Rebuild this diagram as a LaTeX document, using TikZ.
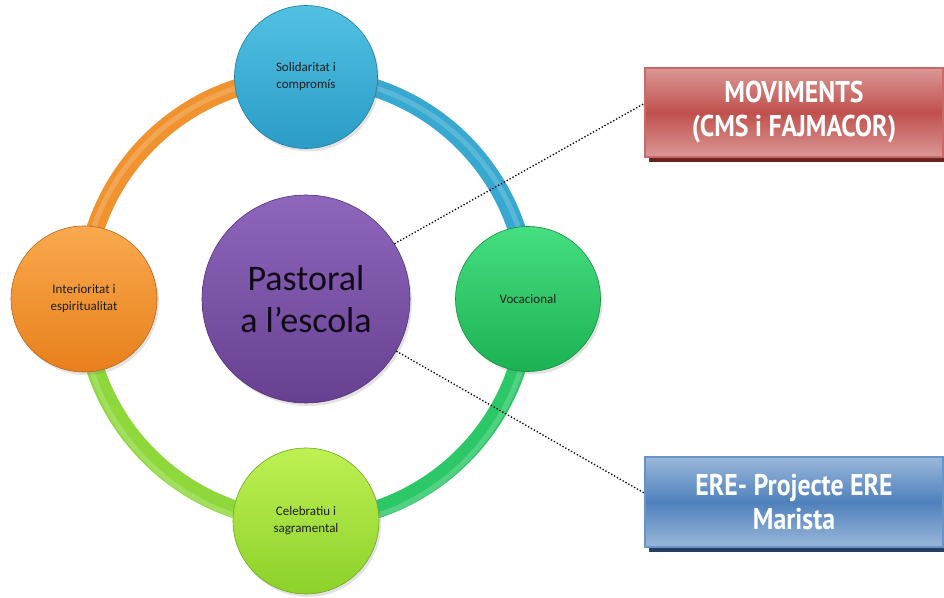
\documentclass[tikz,border=0pt]{standalone}
\usepackage{fontspec}
\setmainfont{Carlito}
\newfontfamily\boxfont[FakeStretch=0.86]{PT Sans Bold}
\usetikzlibrary{shadows}
\definecolor{cTopA}{HTML}{52C0E3}\definecolor{cTopB}{HTML}{2A9CC6}
\definecolor{cRgtA}{HTML}{45DE80}\definecolor{cRgtB}{HTML}{1BB253}
\definecolor{cBotA}{HTML}{BEF153}\definecolor{cBotB}{HTML}{8CD12A}
\definecolor{cLftA}{HTML}{F9A94E}\definecolor{cLftB}{HTML}{E8801C}
\definecolor{cCenA}{HTML}{8E66BC}\definecolor{cCenB}{HTML}{674092}
\definecolor{rBlue}{HTML}{37A8D0}\definecolor{rGreen}{HTML}{2CC868}
\definecolor{rLime}{HTML}{8FD83C}\definecolor{rOrange}{HTML}{F0922E}
\definecolor{redA}{HTML}{DA9896}\definecolor{redB}{HTML}{C0504D}\definecolor{redD}{HTML}{6B2321}
\definecolor{bluA}{HTML}{9AB7DA}\definecolor{bluB}{HTML}{4F81BD}\definecolor{bluD}{HTML}{243F60}
\definecolor{txt}{HTML}{1E1E1E}
\tikzset{
  disc/.style={circle, minimum size=#1, inner sep=0pt, align=center, text=txt,
    drop shadow={opacity=0.22, shadow xshift=2pt, shadow yshift=-3pt}},
  small/.style={font=\fontsize{13}{17}\selectfont},
  ringarc/.style={line width=18pt},
  ringhl/.style={line width=5pt, white, opacity=0.18},
  tag/.style={minimum width=298pt, minimum height=89pt, inner sep=0pt, align=center,
    text=white, font=\boxfont\fontsize{30}{34}\selectfont, line width=1.5pt},
  link/.style={dotted, line width=1.3pt, black}
}
\begin{document}
\begin{tikzpicture}[x=1pt,y=1pt]
\useasboundingbox (0,0) rectangle (944,597);
\fill[white] (0,0) rectangle (944,597);
% hub and ring positions
\coordinate (o) at (306,298);
\coordinate (pt) at (306,520);
\coordinate (pr) at (528,298);
\coordinate (pb) at (306,76);
\coordinate (pl) at (84,298);
% ring arcs
\draw[ringarc, rBlue]   (pt) arc[start angle=90,  end angle=0,   radius=222];
\draw[ringarc, rGreen]  (pr) arc[start angle=0,   end angle=-90, radius=222];
\draw[ringarc, rLime]   (pb) arc[start angle=-90, end angle=-180,radius=222];
\draw[ringarc, rOrange] (pl) arc[start angle=180, end angle=90,  radius=222];
\draw[ringhl] (pt) arc[start angle=90,  end angle=-270, radius=225];
% circles
\node[disc=143pt, top color=cTopA, bottom color=cTopB, draw=cTopB!80!black, line width=0.6pt, small] (top) at (pt) {Solidaritat i\\compromís};
\node[disc=145pt, top color=cRgtA, bottom color=cRgtB, draw=cRgtB!80!black, line width=0.6pt, small] (right) at (pr) {Vocacional};
\node[disc=146pt, top color=cBotA, bottom color=cBotB, draw=cBotB!80!black, line width=0.6pt, small] (bottom) at (pb) {Celebratiu i\\sagramental};
\node[disc=146pt, top color=cLftA, bottom color=cLftB, draw=cLftB!80!black, line width=0.6pt, small] (left) at (pl) {Interioritat i\\espiritualitat};
\node[disc=208pt, top color=cCenA, bottom color=cCenB, draw=cCenB!80!black, line width=0.6pt,
      font=\fontsize{36}{42}\selectfont, text=black!85!cCenB] (c) at (o) {Pastoral\\a l’escola};
% boxes
\fill[redD] (649,435) rectangle (948,524);
\node[tag, top color=redA, bottom color=redA, middle color=redB, draw=redB!85!white] (mov) at (794,484.5) {MOVIMENTS\\(CMS i FAJMACOR)};
\fill[bluD] (649,45) rectangle (948,135);
\node[tag, minimum height=90pt, top color=bluA, bottom color=bluA, middle color=bluB, draw=bluB!85!white] (ere) at (794,95) {ERE- Projecte ERE\\Marista};
% links
\draw[link] (c.32) -- ([yshift=9pt]mov.west);
\draw[link] (c.-30) -- ([yshift=9pt]ere.west);
\end{tikzpicture}
\end{document}
